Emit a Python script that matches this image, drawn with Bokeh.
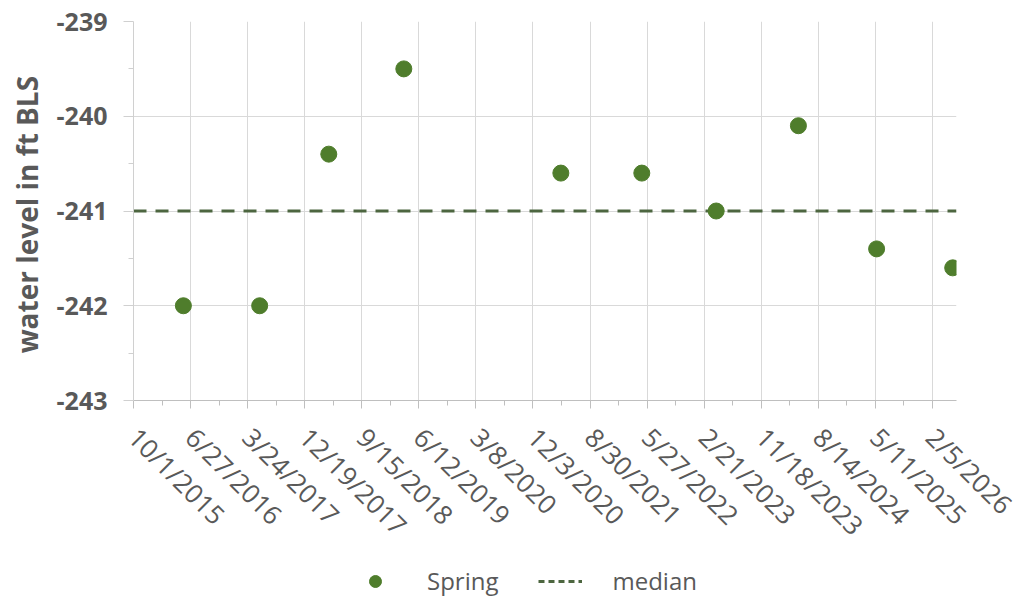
import datetime as dt
from bokeh.plotting import figure
from bokeh.layouts import column
from bokeh.models import Range1d, FixedTicker, Legend, LegendItem, ColumnDataSource
from bokeh.embed import file_html
from bokeh.resources import INLINE

# ---- data ----
dates = ["2016-05-24", "2017-05-20", "2018-04-12", "2019-04-02", "2021-04-14",
         "2022-05-02", "2023-04-19", "2024-05-12", "2025-05-17", "2026-05-12"]
levels = [-242.0, -242.0, -240.4, -239.5, -240.6, -240.6, -241.0, -240.1, -241.4, -241.6]
median_level = -241.0
x_tick_labels = ["10/1/2015", "6/27/2016", "3/24/2017", "12/19/2017", "9/15/2018",
                 "6/12/2019", "3/8/2020", "12/3/2020", "8/30/2021", "5/27/2022",
                 "2/21/2023", "11/18/2023", "8/14/2024", "5/11/2025", "2/5/2026"]
y_ticks = [-243, -242, -241, -240, -239]
x_start = "2015-10-01"
x_end = "2026-05-30"
series_name = "Spring"
median_name = "median"
y_title = "water level  in ft BLS"

EPOCH = dt.datetime(1970, 1, 1)


def to_ms(d):
    return (d - EPOCH).total_seconds() * 1000.0


x_dates = [dt.datetime.strptime(s, "%Y-%m-%d") for s in dates]
x0 = dt.datetime.strptime(x_start, "%Y-%m-%d")
x1 = dt.datetime.strptime(x_end, "%Y-%m-%d")
tick_ms = [to_ms(dt.datetime.strptime(s, "%m/%d/%Y")) for s in x_tick_labels]
minor_ms = [(a + b) / 2 for a, b in zip(tick_ms[:-1], tick_ms[1:])]
minor_ms.append(tick_ms[-1] + (tick_ms[1] - tick_ms[0]) / 2)
y_minor = [v + 0.5 for v in y_ticks[:-1]]

GREEN = "#4f7d2c"
MED = "#4d6640"
TXT = "#595959"
FONT = "Open Sans"

p = figure(width=1020, height=560, x_axis_type="datetime",
           x_range=Range1d(x0, x1), y_range=Range1d(y_ticks[0], y_ticks[-1]),
           output_backend="svg", toolbar_location=None,
           min_border_left=133, min_border_right=64, min_border_top=21,
           min_border_bottom=160)
p.outline_line_color = None
p.background_fill_color = "white"
p.border_fill_color = "white"

src = ColumnDataSource(dict(date=x_dates, level=levels))
med_src = ColumnDataSource(dict(x=[x0, x1], y=[median_level, median_level]))
r_med = p.line(x="x", y="y", source=med_src, line_color=MED,
               line_width=3, line_dash="13 9")
r_pts = p.scatter(x="date", y="level", source=src, size=16, fill_color=GREEN,
                  line_color=GREEN)

# x axis
xa = p.xaxis[0]
xa.ticker = FixedTicker(ticks=tick_ms, minor_ticks=minor_ms)
xa.major_label_overrides = {t: s for t, s in zip(tick_ms, x_tick_labels)}
xa.major_label_orientation = -0.785
xa.major_label_text_font = FONT
xa.major_label_text_font_size = "26px"
xa.major_label_text_font_style = "normal"
xa.major_label_text_color = TXT
xa.major_label_standoff = 24
xa.axis_line_color = "#bfbfbf"
xa.major_tick_line_color = "#bfbfbf"
xa.minor_tick_line_color = "#bfbfbf"
xa.major_tick_out = 8
xa.major_tick_in = 0
xa.minor_tick_out = 5
xa.minor_tick_in = 0

# y axis
ya = p.yaxis[0]
ya.ticker = FixedTicker(ticks=y_ticks, minor_ticks=y_minor)
ya.major_label_overrides = {t: str(t) for t in y_ticks}
ya.major_label_text_font = FONT
ya.major_label_text_font_size = "25px"
ya.major_label_text_font_style = "bold"
ya.major_label_text_color = TXT
ya.major_label_standoff = 16
ya.axis_label = y_title
ya.axis_label_text_font = FONT
ya.axis_label_text_font_size = "28px"
ya.axis_label_text_font_style = "bold"
ya.axis_label_text_color = TXT
ya.axis_label_standoff = 8
ya.axis_line_color = "#d0d0d0"
ya.major_tick_line_color = "#d0d0d0"
ya.minor_tick_line_color = "#d0d0d0"
ya.major_tick_out = 10
ya.major_tick_in = 0
ya.minor_tick_out = 5
ya.minor_tick_in = 0

p.xgrid.grid_line_color = "#d9d9d9"
p.ygrid.grid_line_color = "#d9d9d9"
p.xgrid.ticker = xa.ticker
p.ygrid.ticker = ya.ticker

# ---- legend strip below the chart (same sources; data lie outside this strip's ranges) ----
lf = figure(width=1020, height=40, x_range=Range1d(0, 1), y_range=Range1d(0, 1),
            output_backend="svg", toolbar_location=None,
            x_axis_location=None, y_axis_location=None,
            min_border_left=0, min_border_right=0, min_border_top=0,
            min_border_bottom=0)
lf.outline_line_color = None
lf.xgrid.visible = False
lf.ygrid.visible = False
lg_pts = lf.scatter(x="date", y="level", source=src, size=16, fill_color=GREEN,
                    line_color=GREEN)
lg_med = lf.line(x="x", y="y", source=med_src, line_color=MED, line_width=3,
                 line_dash="6 4")

legend = Legend(items=[LegendItem(label=series_name, renderers=[lg_pts], index=0),
                       LegendItem(label=median_name, renderers=[lg_med])],
                orientation="horizontal", location=(220, 3))
legend.label_text_font = FONT
legend.label_text_font_size = "24px"
legend.label_text_color = TXT
legend.border_line_color = None
legend.background_fill_alpha = 0
legend.padding = 2
legend.margin = 0
legend.glyph_width = 44
legend.glyph_height = 30
legend.label_height = 30
legend.label_standoff = 30
legend.spacing = 40
lf.add_layout(legend, "center")

layout = column(p, lf, spacing=0)
open("out.html", "w").write(file_html(layout, INLINE))
